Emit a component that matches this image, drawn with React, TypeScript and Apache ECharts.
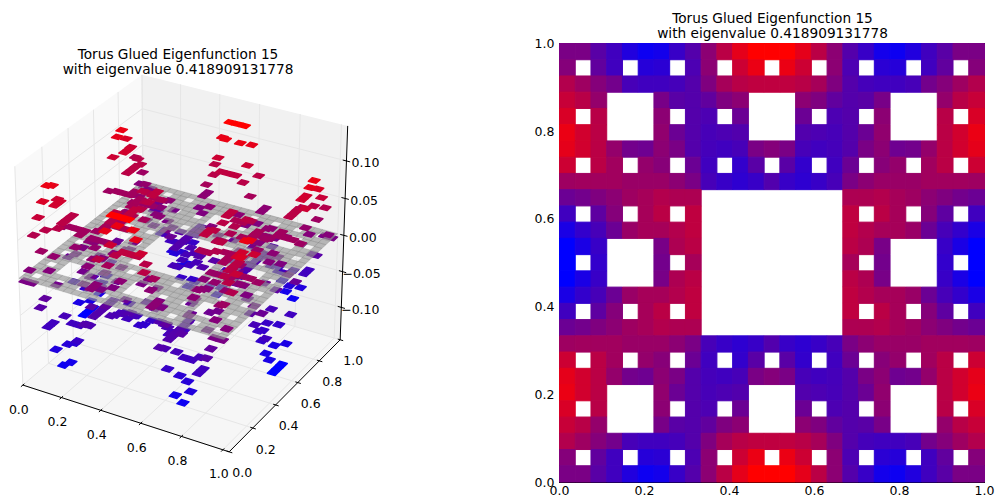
import React, { useEffect, useRef } from "react";
import * as echarts from "echarts";

const _ = null;
const titleText = "Torus Glued Eigenfunction 15\nwith eigenvalue 0.418909131778";
const tickLabels = ["0.0", "0.2", "0.4", "0.6", "0.8", "1.0"];
const unitTicks = [0, 0.2, 0.4, 0.6, 0.8, 1];
const zTicks = [-0.1, -0.05, 0, 0.05, 0.1];
const zTickLabels = ["\u22120.10", "\u22120.05", "0.00", "0.05", "0.10"];

// Colour position of each cell (0 = pure blue, 100 = pure red), top row first; null = hole.
const rows: (number | null)[][] = [
  [48,48,35,25,13,5,8,22,33,55,73,90,100,100,100,90,73,55,33,22,8,5,13,25,35,48,48],
  [52,_,38,25,_,15,17,_,30,55,_,80,92,_,92,80,_,55,30,_,17,15,_,25,38,_,52],
  [70,62,52,45,28,25,25,27,33,50,65,72,75,75,75,72,65,50,33,27,25,25,28,45,52,62,70],
  [78,72,58,_,_,_,47,35,33,38,50,55,_,_,_,55,50,38,33,35,47,_,_,_,58,72,78],
  [85,_,72,_,_,_,55,_,33,30,_,42,_,_,_,42,_,30,33,_,55,_,_,_,72,_,85],
  [92,82,73,_,_,_,57,42,33,28,30,32,_,_,_,32,30,28,33,42,57,_,_,_,73,82,92],
  [90,82,73,58,45,43,55,48,33,27,25,28,48,52,48,28,25,27,33,48,55,43,45,58,73,82,90],
  [80,_,73,63,_,58,53,_,42,25,_,20,35,_,35,20,_,25,42,_,53,58,_,63,73,_,80],
  [62,63,63,63,60,60,60,55,48,28,22,18,22,32,22,18,22,28,48,55,60,60,60,63,63,63,62],
  [42,45,50,55,62,65,70,68,68,_,_,_,_,_,_,_,_,_,68,68,70,65,62,55,50,45,42],
  [25,_,37,52,_,65,73,_,75,_,_,_,_,_,_,_,_,_,75,_,73,65,_,52,37,_,25],
  [10,20,28,42,60,65,65,70,75,_,_,_,_,_,_,_,_,_,75,70,65,65,60,42,28,20,10],
  [0,10,22,_,_,_,47,68,73,_,_,_,_,_,_,_,_,_,73,68,47,_,_,_,22,10,0],
  [0,_,20,_,_,_,45,_,65,_,_,_,_,_,_,_,_,_,65,_,45,_,_,_,20,_,0],
  [0,10,22,_,_,_,47,68,73,_,_,_,_,_,_,_,_,_,73,68,47,_,_,_,22,10,0],
  [10,20,28,42,60,65,65,70,75,_,_,_,_,_,_,_,_,_,75,70,65,65,60,42,28,20,10],
  [25,_,37,52,_,65,73,_,75,_,_,_,_,_,_,_,_,_,75,_,73,65,_,52,37,_,25],
  [42,45,50,55,62,65,70,68,68,_,_,_,_,_,_,_,_,_,68,68,70,65,62,55,50,45,42],
  [62,63,63,63,60,60,60,55,48,28,22,18,22,32,22,18,22,28,48,55,60,60,60,63,63,63,62],
  [80,_,73,63,_,58,53,_,42,25,_,20,35,_,35,20,_,25,42,_,53,58,_,63,73,_,80],
  [90,82,73,58,45,43,55,48,33,27,25,28,48,52,48,28,25,27,33,48,55,43,45,58,73,82,90],
  [92,82,73,_,_,_,57,42,33,28,30,32,_,_,_,32,30,28,33,42,57,_,_,_,73,82,92],
  [85,_,72,_,_,_,55,_,33,30,_,42,_,_,_,42,_,30,33,_,55,_,_,_,72,_,85],
  [78,72,58,_,_,_,47,35,33,38,50,55,_,_,_,55,50,38,33,35,47,_,_,_,58,72,78],
  [70,62,52,45,28,25,25,27,33,50,65,72,75,75,75,72,65,50,33,27,25,25,28,45,52,62,70],
  [52,_,38,25,_,15,17,_,30,55,_,80,92,_,92,80,_,55,30,_,17,15,_,25,38,_,52],
  [48,48,35,25,13,5,8,22,33,55,73,90,100,100,100,90,73,55,33,22,8,5,13,25,35,48,48],
];

const N = 27;
const Z_PEAK = 0.115; // height of a full red / full blue cell
const Z_LIM = 0.146;
const X_LIM = 1.03;
const FONT = '12.5px "DejaVu Sans"';

const EL = (28.5 * Math.PI) / 180;
const AZ = (-60 * Math.PI) / 180;
const nV = [Math.cos(EL) * Math.cos(AZ), Math.cos(EL) * Math.sin(AZ), Math.sin(EL)];
const uV = [-Math.sin(AZ), Math.cos(AZ), 0];
const vV = [
  nV[1] * uV[2] - nV[2] * uV[1],
  nV[2] * uV[0] - nV[0] * uV[2],
  nV[0] * uV[1] - nV[1] * uV[0],
];
const dot = (a: number[], b: number[]) => a[0] * b[0] + a[1] * b[1] + a[2] * b[2];
const proj = (x: number, y: number, z: number): number[] => {
  const p = [x / X_LIM - 0.5, y - 0.5, (z + Z_LIM) / (2 * Z_LIM) - 0.5];
  const w = 10 - dot(nV, p);
  return [dot(uV, p) / w, dot(vV, p) / w];
};
const depth = (x: number, y: number, z: number) =>
  dot(nV, [x / X_LIM - 0.5, y - 0.5, (z + Z_LIM) / (2 * Z_LIM) - 0.5]);

const colorOf = (t: number) =>
  `rgb(${Math.round(t * 2.55)},0,${Math.round((100 - t) * 2.55)})`;

type Cell = { c: number; r: number; t: number; z: number };
const cells: Cell[] = [];
rows.forEach((row, ri) =>
  row.forEach((t, c) => {
    if (t !== null) {
      cells.push({ c, r: N - 1 - ri, t, z: ((2 * t) / 100 - 1) * Z_PEAK });
    }
  })
);
const byDepth = (a: Cell, b: Cell) =>
  depth((b.c + 0.5) / N, (b.r + 0.5) / N, b.z) - depth((a.c + 0.5) / N, (a.r + 0.5) / N, a.z);
const lowTiles = cells.filter((d) => d.z < 0).sort(byDepth).reverse();
const highTiles = cells.filter((d) => d.z >= 0).sort(byDepth).reverse();
const planeCells = [...cells].sort((a, b) => a.r - b.r);

const quadOf = (d: Cell, z: number) => {
  const x0 = d.c / N, x1 = (d.c + 1) / N, y0 = d.r / N, y1 = (d.r + 1) / N;
  return [proj(x0, y0, z), proj(x1, y0, z), proj(x1, y1, z), proj(x0, y1, z)];
};

// Static 3D frame: pane quads, grid lines, axis lines, ticks and labels in data space.
const zl = Z_LIM;
const panes = [
  { pts: [[0, 0, -zl], [X_LIM, 0, -zl], [X_LIM, 1, -zl], [0, 1, -zl]], fill: "#f6f6f6" },
  { pts: [[0, 0, -zl], [0, 1, -zl], [0, 1, zl], [0, 0, zl]], fill: "#f9f9f9" },
  { pts: [[0, 1, -zl], [X_LIM, 1, -zl], [X_LIM, 1, zl], [0, 1, zl]], fill: "#f1f1f1" },
];
const gridLines: number[][][] = [];
unitTicks.forEach((t) => {
  gridLines.push([[t, 0, -zl], [t, 1, -zl]], [[t, 1, -zl], [t, 1, zl]]);
  gridLines.push([[0, t, -zl], [X_LIM, t, -zl]], [[0, t, -zl], [0, t, zl]]);
});
zTicks.forEach((z) => {
  gridLines.push([[0, 0, z], [0, 1, z]], [[0, 1, z], [X_LIM, 1, z]]);
});
const axisLines: number[][][] = [
  [[0, 0, -zl], [X_LIM, 0, -zl]],
  [[X_LIM, 0, -zl], [X_LIM, 1, -zl]],
  [[X_LIM, 1, -zl], [X_LIM, 1, zl]],
];
unitTicks.forEach((t) => {
  axisLines.push([[t, -0.015, -zl], [t, 0.012, -zl]]);
  axisLines.push([[X_LIM + 0.015, t, -zl], [X_LIM - 0.012, t, -zl]]);
});
zTicks.forEach((z) => {
  axisLines.push([[X_LIM - 0.018, 1, z], [X_LIM + 0.018, 1, z]]);
});
type Lab = { p: number[]; dx: number; dy: number; text: string };
const labels3d: Lab[] = [];
unitTicks.forEach((t, i) => {
  labels3d.push({ p: [t, 0, -zl], dx: -4, dy: 24, text: tickLabels[i] });
  labels3d.push({ p: [X_LIM, t, -zl], dx: 13, dy: 21, text: tickLabels[i] });
});
zTicks.forEach((z, i) => {
  labels3d.push({ p: [X_LIM, 1, z], dx: 19, dy: 2, text: zTickLabels[i] });
});

const tileSeries = (list: Cell[]) => ({
  type: "custom",
  xAxisIndex: 0,
  yAxisIndex: 0,
  coordinateSystem: "cartesian2d",
  data: list.map((_d, i) => [i]),
  silent: true,
  renderItem: (p: any, api: any) => {
    const d = list[p.dataIndex];
    return {
      type: "polygon",
      shape: { points: quadOf(d, d.z).map((q) => api.coord(q)) },
      style: { fill: colorOf(d.t), stroke: colorOf(d.t), lineWidth: 1.4, lineJoin: "round" },
    };
  },
});

export default function App() {
  const ref = useRef<HTMLDivElement>(null);
  useEffect(() => {
    const chart = echarts.init(ref.current!, undefined, { renderer: "svg" });
    const axisFont = { fontFamily: "DejaVu Sans", fontSize: 12.5, color: "#000" };
    const titleStyle = { fontFamily: "DejaVu Sans", fontSize: 13.7, fontWeight: "normal", color: "#000", lineHeight: 15 };
    const hidden3d = (min: number, max: number) => ({ type: "value", show: false, min, max, gridIndex: 0 });
    const rightAxis = (position: string, showLabel: boolean, margin: number) => ({
      type: "value", gridIndex: 1, min: 0, max: 1, interval: 0.2, position,
      splitLine: { show: false },
      axisLine: { show: true, onZero: false, lineStyle: { color: "#000", width: 1 } },
      axisTick: { show: true, inside: true, length: 4, lineStyle: { color: "#000" } },
      axisLabel: { show: showLabel, ...axisFont, margin, formatter: (v: number) => v.toFixed(1) },
    });
    chart.setOption({
      animation: false,
      backgroundColor: "#fff",
      title: [
        { text: titleText, left: 173, top: 41, textAlign: "center", textStyle: titleStyle },
        { text: titleText, left: 767.5, top: 5, textAlign: "center", textStyle: titleStyle },
      ],
      grid: [
        { left: 17.54, top: 59.7, width: 344.81, height: 405.9, outerBoundsMode: "none" },
        { left: 559.5, top: 43.5, width: 425, height: 438.5, outerBoundsMode: "none" },
      ],
      xAxis: [hidden3d(-0.07, 0.075), rightAxis("bottom", true, 1.5), rightAxis("top", false, 3)],
      yAxis: [hidden3d(-0.085, 0.08), rightAxis("left", true, 5), rightAxis("right", false, 5)],
      series: [
        {
          type: "custom", coordinateSystem: "cartesian2d", xAxisIndex: 0, yAxisIndex: 0, silent: true,
          data: panes.map((_d, i) => [i]),
          renderItem: (p: any, api: any) => ({
            type: "polygon",
            shape: { points: panes[p.dataIndex].pts.map((q) => api.coord(proj(q[0], q[1], q[2]))) },
            style: { fill: panes[p.dataIndex].fill },
          }),
        },
        {
          type: "custom", coordinateSystem: "cartesian2d", xAxisIndex: 0, yAxisIndex: 0, silent: true,
          data: gridLines.map((_d, i) => [i]),
          renderItem: (p: any, api: any) => {
            const [a, b] = gridLines[p.dataIndex];
            const s = api.coord(proj(a[0], a[1], a[2]));
            const e = api.coord(proj(b[0], b[1], b[2]));
            return { type: "line", shape: { x1: s[0], y1: s[1], x2: e[0], y2: e[1] }, style: { stroke: "#e6e6e6", lineWidth: 1 } };
          },
        },
        tileSeries(lowTiles),
        {
          type: "custom", coordinateSystem: "cartesian2d", xAxisIndex: 0, yAxisIndex: 0, silent: true,
          data: planeCells.map((_d, i) => [i]),
          renderItem: (p: any, api: any) => ({
            type: "polygon",
            shape: { points: quadOf(planeCells[p.dataIndex], 0).map((q) => api.coord(q)) },
            style: { fill: "rgba(150,150,150,0.65)", stroke: "rgba(110,110,110,0.45)", lineWidth: 0.5 },
          }),
        },
        tileSeries(highTiles),
        {
          type: "custom", coordinateSystem: "cartesian2d", xAxisIndex: 0, yAxisIndex: 0, silent: true,
          data: axisLines.map((_d, i) => [i]),
          renderItem: (p: any, api: any) => {
            const [a, b] = axisLines[p.dataIndex];
            const s = api.coord(proj(a[0], a[1], a[2]));
            const e = api.coord(proj(b[0], b[1], b[2]));
            return { type: "line", shape: { x1: s[0], y1: s[1], x2: e[0], y2: e[1] }, style: { stroke: "#000", lineWidth: 1 } };
          },
        },
        {
          type: "custom", coordinateSystem: "cartesian2d", xAxisIndex: 0, yAxisIndex: 0, silent: true,
          data: labels3d.map((_d, i) => [i]),
          renderItem: (p: any, api: any) => {
            const l = labels3d[p.dataIndex];
            const c = api.coord(proj(l.p[0], l.p[1], l.p[2]));
            return {
              type: "text",
              style: { x: c[0] + l.dx, y: c[1] + l.dy, text: l.text, fill: "#000", font: FONT, align: "center", verticalAlign: "middle" },
            };
          },
        },
        {
          type: "custom", coordinateSystem: "cartesian2d", xAxisIndex: 1, yAxisIndex: 1, silent: true, z: 1,
          data: cells.map((d) => [d.c, d.r, d.t]),
          renderItem: (_p: any, api: any) => {
            const c = api.value(0), r = api.value(1);
            const tl = api.coord([c / N, (r + 1) / N]);
            const br = api.coord([(c + 1) / N, r / N]);
            const col = colorOf(api.value(2));
            return {
              type: "rect",
              shape: { x: tl[0], y: tl[1], width: br[0] - tl[0], height: br[1] - tl[1] },
              style: { fill: col, stroke: col, lineWidth: 1 },
            };
          },
        },
      ],
    });
    return () => chart.dispose();
  }, []);
  return <div ref={ref} style={{ position: "absolute", left: 0, top: 0, width: 997, height: 497 }} />;
}
